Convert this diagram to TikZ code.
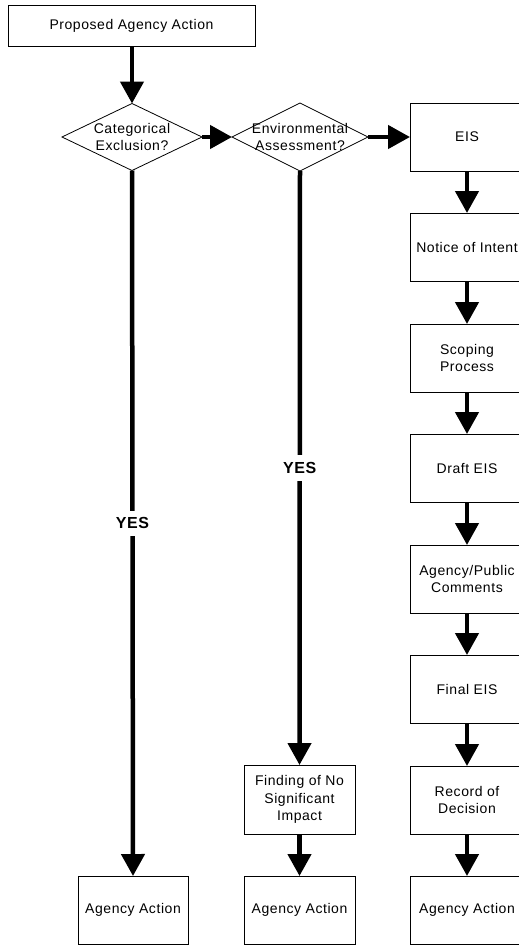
\documentclass[tikz,border=0pt]{standalone}
\usepackage{fontspec}
\setmainfont{Liberation Sans}[LetterSpace=4]
\usetikzlibrary{arrows.meta,shapes.geometric}
\begin{document}
\begin{tikzpicture}[x=1pt,y=-1pt,
  box/.style={draw, line width=0.8pt, rectangle, inner sep=0pt, outer sep=0pt, align=center, font=\fontsize{14}{17.5}\selectfont},
  rbox/.style={box, minimum width=114pt, minimum height=68pt},
  dia/.style={draw, diamond, line width=0.8pt, inner sep=0pt, outer sep=0pt},
  dtext/.style={align=center, inner sep=0pt, font=\fontsize{14}{17.5}\selectfont},
  arr/.style={line width=4.5pt, -{Triangle[length=22pt,width=23pt]}},
  yes/.style={fill=white, font=\fontsize{16}{18}\selectfont\bfseries, inner xsep=3pt, inner ysep=7pt}]
\useasboundingbox (0,0) rectangle (519,945);

\node[box, minimum width=247pt, minimum height=41pt] (top) at (131.5,25.5) {Proposed Agency Action};

\node[dia, minimum width=140pt, minimum height=67pt] (d1) at (132,137) {};
\node[dtext] (d1t) at (d1.center) {Categorical\\Exclusion?};
\node[dia, minimum width=136pt, minimum height=68pt] (d2) at (300,137) {};
\node[dtext] (d2t) at (d2.center) {Environmental\\Assessment?};

\node[rbox] (eis) at (467,137) {EIS};
\node[rbox] (noi) at (467,247) {Notice of Intent};
\node[rbox] (scp) at (467,358) {Scoping\\Process};
\node[rbox] (deis) at (467,468) {Draft EIS};
\node[rbox] (apc) at (467,579) {Agency/Public\\Comments};
\node[rbox] (feis) at (467,689) {Final EIS};
\node[rbox] (rod) at (467,800) {Record of\\Decision};
\node[rbox] (aa3) at (467,910) {Agency Action};

\node[box, minimum width=110pt, minimum height=68pt] (aa1) at (133,910) {Agency Action};
\node[box, minimum width=111pt, minimum height=68pt] (aa2) at (299.5,910) {Agency Action};
\node[box, minimum width=111pt, minimum height=69pt] (fnsi) at (299.5,799.5) {Finding of No\\Significant\\Impact};

\draw[arr] (top.south -| d1.north) -- (d1.north);
\draw[arr] (d1.east) -- (d2.west);
\draw[arr] (d2.east) -- (eis.west);
\draw[arr] (d1.south) -- node[yes] {YES} (aa1.north);
\draw[arr] (d2.south) -- node[yes] {YES} (fnsi.north);
\draw[arr] (fnsi.south) -- (aa2.north);
\draw[arr] (eis.south) -- (noi.north);
\draw[arr] (noi.south) -- (scp.north);
\draw[arr] (scp.south) -- (deis.north);
\draw[arr] (deis.south) -- (apc.north);
\draw[arr] (apc.south) -- (feis.north);
\draw[arr] (feis.south) -- (rod.north);
\draw[arr] (rod.south) -- (aa3.north);
\end{tikzpicture}
\end{document}
